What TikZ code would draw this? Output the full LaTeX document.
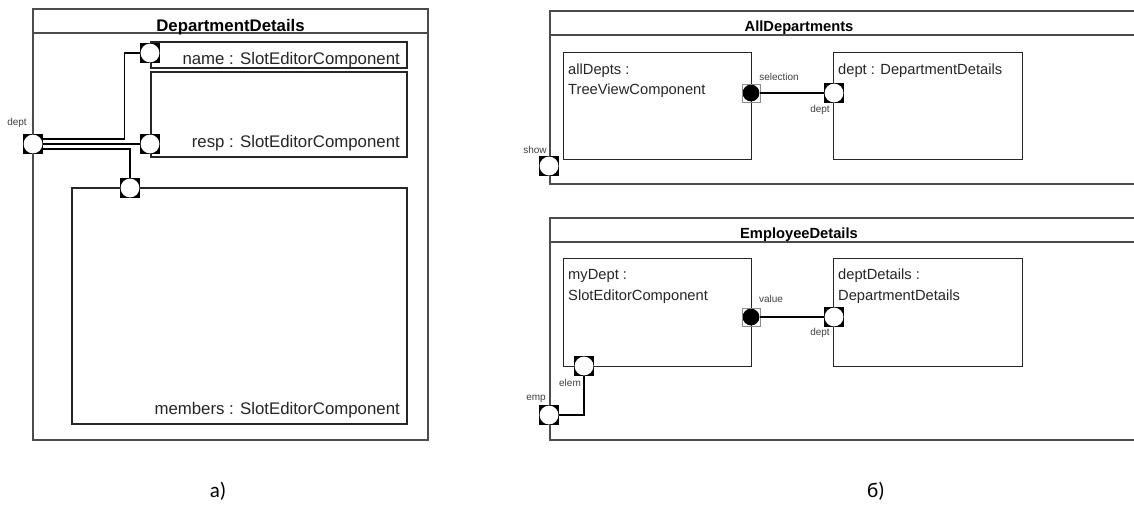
\documentclass[tikz,border=0pt]{standalone}
\usepackage{fontspec}
\setmainfont{Liberation Sans}
\newfontfamily\capfont{Carlito}
\begin{document}
\begin{tikzpicture}[x=1pt,y=-1pt,
  frame/.style={draw=black!70, line width=1.8pt, inner sep=0pt},
  sepline/.style={draw=black!70, line width=1.5pt},
  box/.style={draw=black!85, line width=1.3pt, inner sep=0pt},
  port/.style={rectangle, fill=black, minimum size=20pt, inner sep=0pt,
    path picture={\fill[white] (path picture bounding box.center) circle (9.4pt);}},
  fport/.style={rectangle, draw=black!45, line width=0.6pt, minimum size=18pt, inner sep=0pt,
    path picture={\fill[black] (path picture bounding box.center) circle (8.4pt);}},
  conn/.style={draw=black, line width=1.3pt},
  ttlL/.style={font=\bfseries\fontsize{16.8}{20}\selectfont, inner sep=0pt, anchor=base},
  ttlR/.style={font=\bfseries\fontsize{14.7}{18}\selectfont, inner sep=0pt, anchor=base},
  txtL/.style={font=\fontsize{16.8}{20}\selectfont, text=black!85, inner sep=0pt},
  txtR/.style={font=\fontsize{14.7}{18}\selectfont, text=black!85, inner sep=0pt, anchor=base west},
  small/.style={font=\fontsize{10}{12}\selectfont, text=black!75, inner sep=0pt},
  captxt/.style={font=\capfont\fontsize{21}{24}\selectfont, inner sep=0pt}
]
\useasboundingbox (0,0) rectangle (1134,504);
\fill[white] (0,0) rectangle (1134,504);

% ---------- a) DepartmentDetails ----------
\node[frame, minimum width=395pt, minimum height=431pt] (dd) at (230.5,224.5) {};
\draw[sepline] ([yshift=-25pt]dd.north west) -- ([yshift=-25pt]dd.north east);
\node[ttlL] (ddt) at (230.5,31.5) {DepartmentDetails};

\node[box, minimum width=256pt, minimum height=26pt] (nameb) at (279,55) {};
\node[box, minimum width=256pt, minimum height=85pt] (respb) at (279,114.5) {};
\node[box, minimum width=335pt, minimum height=236pt] (memb) at (239.5,306) {};

\node[port] (pdept) at (33,144) {};
\node[port] (pname) at (150,53) {};
\node[port] (presp) at (150,144) {};
\node[port] (pmem) at (130,188) {};

\draw[conn] ([yshift=5pt]pdept.east) -| ([xshift=-15pt]pname.west) -- (pname.west);
\draw[conn] (pdept.east) -- (presp.west);
\draw[conn] ([yshift=-5pt]pdept.east) -| (pmem.north);

\node[txtL, anchor=base east] (namet) at (400,64) {name : SlotEditorComponent};
\node[txtL, anchor=base east] (respt) at (400,147) {resp : SlotEditorComponent};
\node[txtL, anchor=base east] (membt) at (400,414) {members : SlotEditorComponent};
\node[small] (ldept) at (17,123) {dept};

% ---------- b) AllDepartments ----------
\node[frame, minimum width=592pt, minimum height=173pt, anchor=north west] (ad) at (549,10) {};
\draw[sepline] ([yshift=-25pt]ad.north west) -- ([yshift=-25pt]ad.north east);
\node[ttlR] (adt) at (799,31.5) {AllDepartments};

\node[box, minimum width=188pt, minimum height=107pt, anchor=north west] (alldb) at (563,52) {};
\node[box, minimum width=189pt, minimum height=107pt, anchor=north west] (deptb) at (833,52) {};

\node[fport] (psel) at (751,93) {};
\node[port] (pd1) at (834,93) {};
\node[port] (pshow) at (549,166) {};
\draw[conn] (psel.east) -- (pd1.west);

\node[txtR] (t1a) at (568,74) {allDepts :};
\node[txtR] (t1b) at (568,94) {TreeViewComponent};
\node[txtR] (t2a) at (838,74) {dept : DepartmentDetails};
\node[small] (lsel) at (779,77) {selection};
\node[small] (ld1) at (820,110) {dept};
\node[small] (lshow) at (535,150) {show};

% ---------- b) EmployeeDetails ----------
\node[frame, minimum width=592pt, minimum height=222pt, anchor=north west] (ed) at (549,217) {};
\draw[sepline] ([yshift=-25pt]ed.north west) -- ([yshift=-25pt]ed.north east);
\node[ttlR] (edt) at (799,238.5) {EmployeeDetails};

\node[box, minimum width=188pt, minimum height=108pt, anchor=north west] (mydb) at (563,258) {};
\node[box, minimum width=189pt, minimum height=108pt, anchor=north west] (ddb) at (833,258) {};

\node[fport] (pval) at (751,317) {};
\node[port] (pd2) at (834,317) {};
\node[port] (pelem) at (584,366) {};
\node[port] (pemp) at (549,415) {};
\draw[conn] (pval.east) -- (pd2.west);
\draw[conn] (pemp.east) -| (pelem.south);

\node[txtR] (t3a) at (568,279) {myDept :};
\node[txtR] (t3b) at (568,300) {SlotEditorComponent};
\node[txtR] (t4a) at (838,279) {deptDetails :};
\node[txtR] (t4b) at (838,300) {DepartmentDetails};
\node[small] (lval) at (771,299) {value};
\node[small] (ld2) at (820,333) {dept};
\node[small] (lelem) at (570,383) {elem};
\node[small] (lemp) at (536,399) {emp};

% captions
\node[captxt] (capa) at (218,491) {а)};
\node[captxt] (capb) at (876,491) {б)};
\end{tikzpicture}
\end{document}
